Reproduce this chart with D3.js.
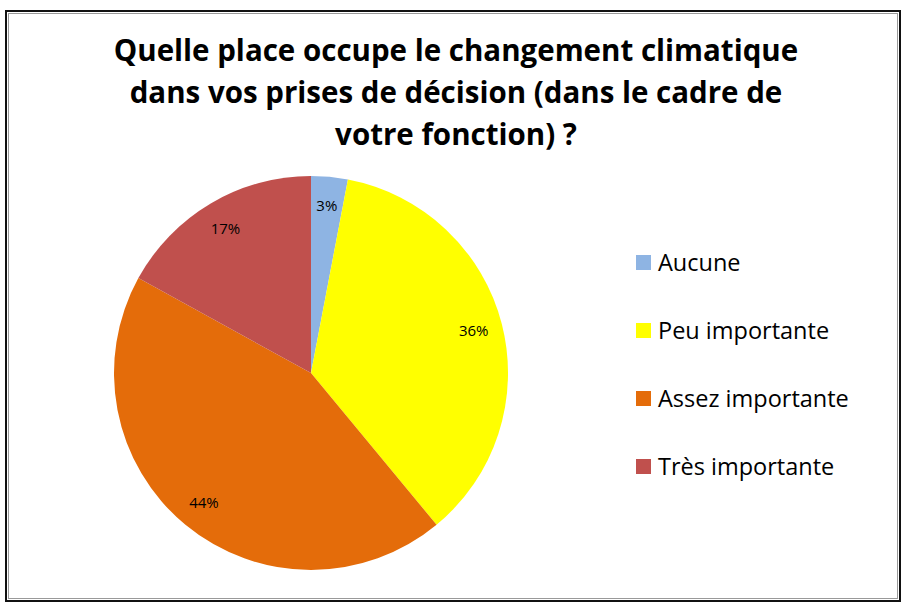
<!DOCTYPE html>
<html>
<head>
<meta charset="utf-8">
<script src="https://cdn.jsdelivr.net/npm/d3@7"></script>
<style>
body { margin: 0; background: #fff; }
svg text { font-family: "Open Sans", "Noto Sans", sans-serif; }
</style>
</head>
<body>
<script>
// DATA
var categories = ["Aucune", "Peu importante", "Assez importante", "Très importante"];
var values = [3, 36, 44, 17];
var colors = ["#8EB4E3", "#FFFF00", "#E46C0A", "#C0504D"];
var title_lines = ["Quelle place occupe le changement climatique",
                   "dans vos prises de décision (dans le cadre de",
                   "votre fonction) ?"];

var width = 904, height = 605;

var svg = d3.select("body")
            .append("svg")
            .attr("width", width)
            .attr("height", height);

// frame
svg.append("rect")
   .attr("x", 6).attr("y", 11)
   .attr("width", 894).attr("height", 590)
   .attr("fill", "#fff")
   .attr("stroke", "#111")
   .attr("stroke-width", 2);
svg.append("rect")
   .attr("x", 8.5).attr("y", 13.5)
   .attr("width", 889).attr("height", 585)
   .attr("fill", "none")
   .attr("stroke", "#999")
   .attr("stroke-width", 1);

// title
svg.append("g")
   .selectAll("text")
   .data(title_lines)
   .enter()
   .append("text")
   .attr("x", 456)
   .attr("y", function(d, i){ return 61 + i * 42; })
   .attr("text-anchor", "middle")
   .attr("font-size", 29.5)
   .attr("font-weight", "bold")
   .attr("fill", "#000")
   .text(function(d){ return d; });

// PIE
var cx = 311, cy = 373, radius = 197;

var pie = d3.pie().sort(null).value(function(d){ return d; });
var arcs = pie(values);

var arc = d3.arc().innerRadius(0).outerRadius(radius);
var label_arc = d3.arc().innerRadius(168).outerRadius(168);

var pie_g = svg.append("g")
               .attr("transform", "translate(" + cx + "," + cy + ")");

pie_g.selectAll("path")
     .data(arcs)
     .enter()
     .append("path")
     .attr("d", arc)
     .attr("fill", function(d, i){ return colors[i]; });

pie_g.selectAll("text")
     .data(arcs)
     .enter()
     .append("text")
     .attr("transform", function(d){ return "translate(" + label_arc.centroid(d) + ")"; })
     .attr("text-anchor", "middle")
     .attr("dy", "0.35em")
     .attr("font-size", 15)
     .attr("fill", "#000")
     .text(function(d){ return d.value + "%"; });

// LEGEND
var legend = svg.append("g")
                .selectAll("g")
                .data(categories)
                .enter()
                .append("g")
                .attr("transform", function(d, i){ return "translate(636," + (263 + i * 68) + ")"; });

legend.append("rect")
      .attr("x", 0).attr("y", -8)
      .attr("width", 15).attr("height", 15)
      .attr("fill", function(d, i){ return colors[i]; });

legend.append("text")
      .attr("x", 22)
      .attr("y", 0)
      .attr("dy", "0.35em")
      .attr("font-size", 23.5)
      .attr("fill", "#000")
      .text(function(d){ return d; });
</script>
</body>
</html>
